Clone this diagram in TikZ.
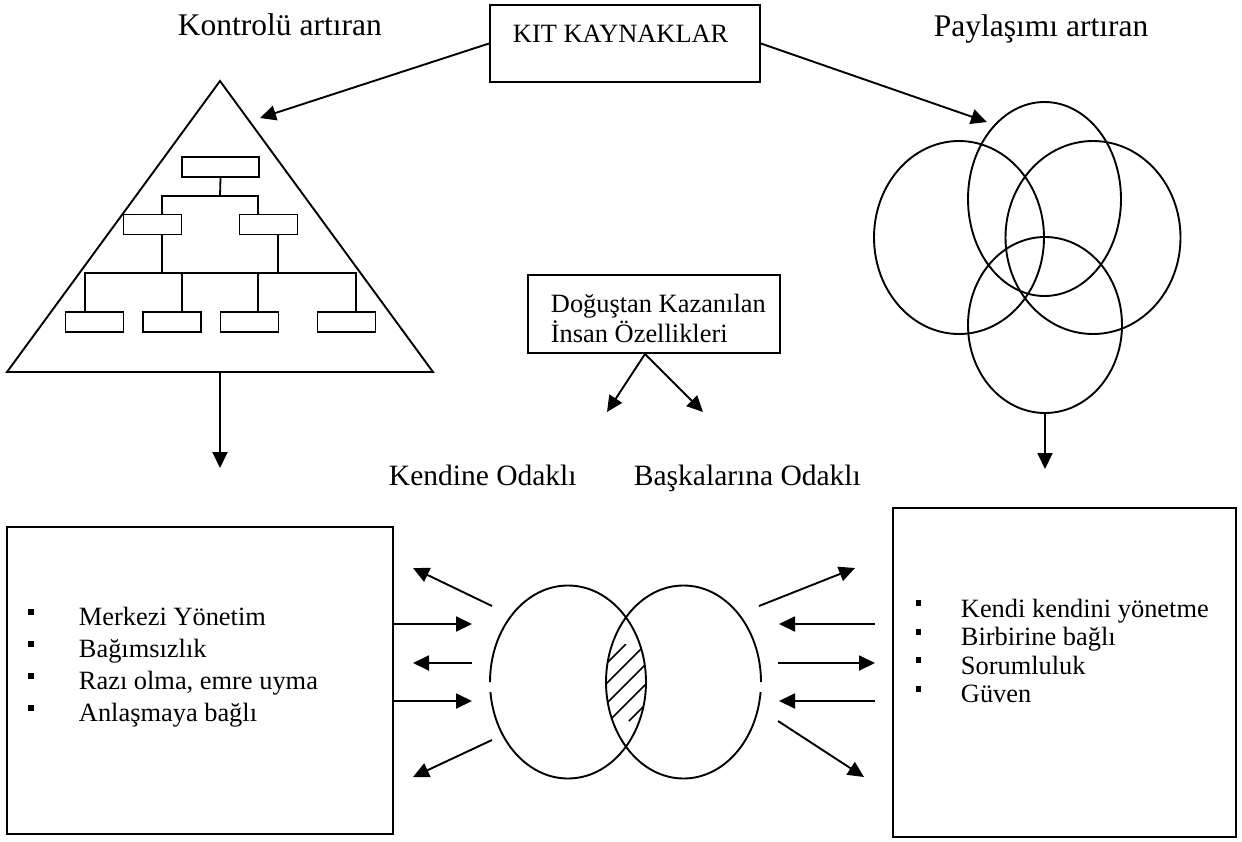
\documentclass[tikz,border=0pt]{standalone}
\usepackage{fontspec}
\setmainfont{Liberation Serif}
\usetikzlibrary{arrows.meta,shapes.geometric}
\begin{document}
\begin{tikzpicture}[x=1pt,y=-1pt,
  line width=1.9pt,
  arr/.style={-{Triangle[length=16pt,width=15pt]}},
  frame/.style={draw, inner sep=0pt},
  orgbox/.style={draw, line width=1.8pt, minimum width=58pt, minimum height=20pt, inner sep=0pt},
  ring/.style={draw, ellipse, inner sep=0pt},
  lab/.style={anchor=base west, inner sep=0pt},
  big/.style={font=\fontsize{31.5}{38}\selectfont},
  mid/.style={font=\fontsize{29.5}{35}\selectfont},
  txt/.style={font=\fontsize{26.4}{30}\selectfont},
  bul/.style={fill, minimum width=6pt, minimum height=6.5pt, inner sep=0pt}
]
\useasboundingbox (0,0) rectangle (1242,841);
\fill[white] (0,0) rectangle (1242,841);

% headings
\node[lab,big] (kontrol) at (177,35) {Kontrolü artıran};
\node[lab,big] (paylas) at (933,36) {Paylaşımı artıran};

% scarce resources box
\node[frame, minimum width=270pt, minimum height=77pt] (kit) at (625,43.5) {};
\node[lab,txt] (kittext) at (512,42) {KIT KAYNAKLAR};

% hierarchy pyramid
\coordinate (apex) at (220,81);
\coordinate (bl) at (7,372);
\coordinate (br) at (433,372);
\coordinate (tb) at (220,372);
\draw[line join=miter] (apex) -- (bl) -- (br) -- cycle;

% organisation chart
\node[orgbox, minimum width=77pt] (ot) at (220.5,167) {};
\node[orgbox] (ml) at (152.5,224.5) {};
\node[orgbox] (mr) at (268.5,224.5) {};
\node[orgbox] (o1) at (94.5,322) {};
\node[orgbox] (o2) at (172,322) {};
\node[orgbox] (o3) at (249.5,322) {};
\node[orgbox] (o4) at (346.5,322) {};
\coordinate (bus1) at (220,196);
\coordinate (bus2) at (220,273);
\begin{scope}[line width=1.8pt]
\draw (ot.south) -- (bus1);
\draw ([xshift=9.5pt]ml.north) |- (bus1) -| ([xshift=-10.5pt]mr.north);
\draw ([xshift=9.5pt]ml.south) -- ([xshift=9.5pt]ml.south |- bus2);
\draw ([xshift=9.5pt]mr.south) -- ([xshift=9.5pt]mr.south |- bus2);
\draw ([xshift=-9.5pt]o1.north) |- (bus2) -| ([xshift=9.5pt]o4.north);
\draw ([xshift=10pt]o2.north) -- ([xshift=10pt]o2.north |- bus2);
\draw ([xshift=8.5pt]o3.north) -- ([xshift=8.5pt]o3.north |- bus2);
\end{scope}

% overlapping circles
\node[ring, minimum width=153pt, minimum height=194pt] (c1) at (1044.5,199) {};
\node[ring, minimum width=170pt, minimum height=193pt] (c2) at (959,237.5) {};
\node[ring, minimum width=175pt, minimum height=193pt] (c3) at (1093,237.5) {};
\node[ring, minimum width=154pt, minimum height=176pt] (c4) at (1045,325) {};

% arrows from the scarce resources box
\coordinate (tritip) at (260,118);
\coordinate (circtip) at (987,122);
\draw[arr] (kit.west) -- (tritip);
\draw[arr] (kit.east) -- (circtip);

% downward arrows
\coordinate (ldown) at (220,468);
\coordinate (rdown) at (1045,469);
\draw[arr] (tb) -- (ldown);
\draw[arr] (c4.south) -- (rdown);

% innate traits box
\node[frame, minimum width=252pt, minimum height=78pt] (dog) at (654,314) {};
\node[lab,txt] (dog1) at (550,312) {Doğuştan Kazanılan};
\node[lab,txt] (dog2) at (550,342) {İnsan Özellikleri};
\coordinate (kt) at (607,412);
\coordinate (bt) at (703,412);
\draw[arr] ([xshift=-9pt]dog.south) -- (kt);
\draw[arr] ([xshift=-9pt]dog.south) -- (bt);

\node[lab,mid] (kendine) at (388,485) {Kendine Odaklı};
\node[lab,mid] (baska) at (633,485) {Başkalarına Odaklı};

% left box
\node[frame, minimum width=386pt, minimum height=307pt] (lbox) at (200,680.5) {};
\foreach \i/\t in {0/Merkezi Yönetim, 1/Bağımsızlık, 2/{Razı olma, emre uyma}, 3/Anlaşmaya bağlı}{
  \node[bul] (lb\i) at (31,612+32*\i) {};
  \node[lab,txt] (lt\i) at (78,625+32*\i) {\t};
}

% right box
\node[frame, minimum width=343pt, minimum height=329pt] (rbox) at (1064.5,672.5) {};
\foreach \i/\t in {0/Kendi kendini yönetme, 1/Birbirine bağlı, 2/Sorumluluk, 3/Güven}{
  \node[bul, minimum width=5pt, minimum height=6pt] (rb\i) at (918,603+28.5*\i) {};
  \node[lab,txt] (rt\i) at (960,617+28.5*\i) {\t};
}

% two overlapping ellipses with outer gaps
\draw (568,682) ++(-78,0) arc[start angle=180, end angle=534, x radius=78, y radius=96.5];
\draw (683.5,682) ++(77.5,0) arc[start angle=0, end angle=-354, x radius=77.5, y radius=96.5];
\begin{scope}
  \clip (568,682) ellipse [x radius=78, y radius=96.5];
  \clip (683.5,682) ellipse [x radius=77.5, y radius=96.5];
  \clip (600,644) rectangle (652,721);
  \foreach \c in {1270,1290,...,1350}
    \draw[line width=1.7pt] (\c-721,721) -- (\c-644,644);
\end{scope}

% arrows on the left of the ellipses
\coordinate (l1s) at (492,606); \coordinate (l1e) at (413,568);
\coordinate (l2s) at (472,624);
\coordinate (l3s) at (472,663); \coordinate (l3e) at (413,663);
\coordinate (l4s) at (472,701);
\coordinate (l5s) at (492,740); \coordinate (l5e) at (413,777);
\draw[arr] (l1s) -- (l1e);
\draw[arr] (lbox.east |- l2s) -- (l2s);
\draw[arr] (l3s) -- (l3e);
\draw[arr] (lbox.east |- l4s) -- (l4s);
\draw[arr] (l5s) -- (l5e);

% arrows on the right of the ellipses
\coordinate (r1s) at (759,606); \coordinate (r1e) at (855,568);
\coordinate (r2s) at (875,624); \coordinate (r2e) at (779,624);
\coordinate (r3s) at (778,663); \coordinate (r3e) at (875,663);
\coordinate (r4s) at (875,701); \coordinate (r4e) at (779,701);
\coordinate (r5s) at (778,721); \coordinate (r5e) at (864,777);
\draw[arr] (r1s) -- (r1e);
\draw[arr] (r2s) -- (r2e);
\draw[arr] (r3s) -- (r3e);
\draw[arr] (r4s) -- (r4e);
\draw[arr] (r5s) -- (r5e);
\end{tikzpicture}
\end{document}
